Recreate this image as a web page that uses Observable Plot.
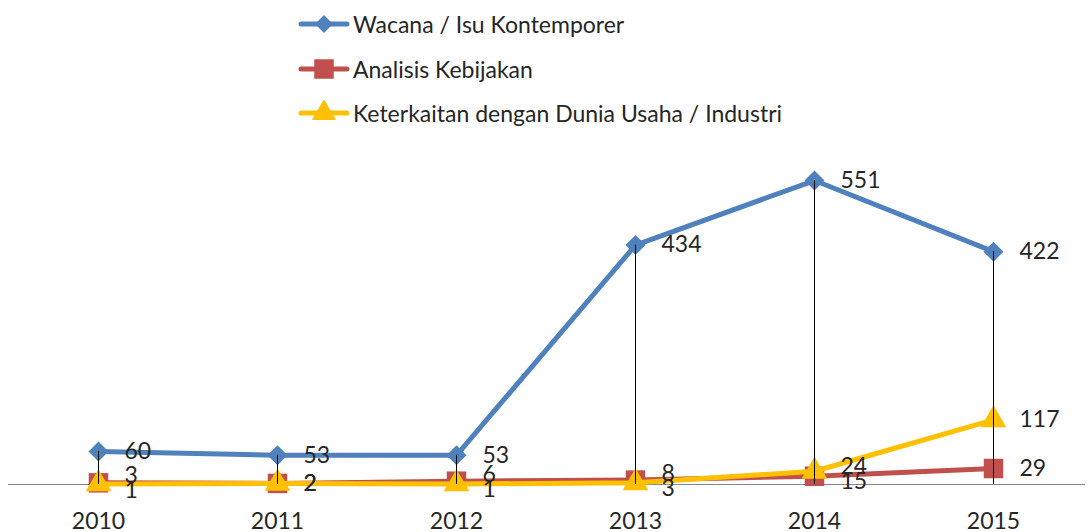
<!DOCTYPE html>
<html>
<head>
<meta charset="utf-8">
<script src="https://cdn.jsdelivr.net/npm/d3@7"></script>
<script src="https://cdn.jsdelivr.net/npm/@observablehq/plot@0.6"></script>
<style>
  html, body { margin: 0; padding: 0; background: #fff; }
  #wrap { position: relative; width: 1087px; height: 532px; font-family: Lato, "Open Sans", sans-serif; }
  #legend { position: absolute; left: 298px; top: 2px; color: #262626; font-size: 23px; }
  .row { display: flex; align-items: center; height: 44.5px; }
  .row span { margin-left: 3px; }
  #chart { position: absolute; left: 0; top: 0; }
</style>
</head>
<body>
<div id="wrap">
  <div id="chart"></div>
  <div id="legend"></div>
</div>
<script>
const years = ["2010", "2011", "2012", "2013", "2014", "2015"];
const wacana = [60, 53, 53, 434, 551, 422];
const analisis = [3, 2, 6, 8, 15, 29];
const keterkaitan = [1, 2, 1, 3, 24, 117];
const seriesNames = ["Wacana / Isu Kontemporer", "Analisis Kebijakan", "Keterkaitan dengan Dunia Usaha / Industri"];
const seriesColors = ["#4F81BD", "#C0504D", "#FFC000"];
const seriesSymbols = ["diamond2", "square", "triangle"];
const seriesValues = [wacana, analisis, keterkaitan];

const W = 1087, H = 532, mTop = 153, mBottom = 48, yMax = 600;
const ppu = (H - mTop - mBottom) / yMax;

// Nudge overlapping labels of the two small series apart
const labelY = seriesValues.map(v => v.slice());
years.forEach((_, i) => {
  const a = analisis[i], k = keterkaitan[i];
  const pa = a * ppu, pk = k * ppu;
  if (a !== k && Math.abs(pa - pk) < 15) {
    const mid = (pa + pk) / 2;
    const up = mid + 7.5, dn = mid - 7.5;
    if (a > k) { labelY[1][i] = up / ppu; labelY[2][i] = dn / ppu; }
    else { labelY[2][i] = up / ppu; labelY[1][i] = dn / ppu; }
  }
});

const rows = [];
seriesNames.forEach((s, j) => {
  years.forEach((y, i) => rows.push({series: s, idx: j, year: y, value: seriesValues[j][i], ly: labelY[j][i]}));
});
const drops = years.map((y, i) => ({year: y, top: Math.max(wacana[i], analisis[i], keterkaitan[i])}));

const marks = [Plot.ruleY([0], {stroke: "#868686", strokeWidth: 1})];
seriesNames.forEach((s, j) => {
  const d = rows.filter(r => r.idx === j);
  marks.push(Plot.line(d, {x: "year", y: "value", stroke: seriesColors[j], strokeWidth: 5, strokeLinejoin: "round", strokeLinecap: "round"}));
  const r = j === 0 ? 9 : j === 1 ? 11 : 9.5;
  marks.push(Plot.dot(d, {x: "year", y: "value", symbol: () => seriesSymbols[j], r, fill: seriesColors[j], stroke: "none"}));
});
marks.push(Plot.ruleX(drops, {x: "year", y1: 0, y2: "top", stroke: "#000", strokeWidth: 1}));
marks.push(Plot.text(rows, {x: "year", y: "ly", text: d => String(d.value), dx: 26, textAnchor: "start", fontSize: 23, fill: "#262626"}));
marks.push(Plot.axisX({tickSize: 0, tickPadding: 28, fontSize: 23, fill: "#262626"}));

const chart = Plot.plot({
  width: W, height: H,
  marginTop: mTop, marginBottom: mBottom, marginLeft: 8, marginRight: 2,
  x: {type: "point", domain: years, padding: 0, insetLeft: 89, insetRight: 91, label: null},
  y: {domain: [0, yMax], axis: null},
  symbol: {type: "identity"},
  style: {fontFamily: "Lato, 'Open Sans', sans-serif", fontSize: "23px", color: "#262626", background: "#fff"},
  marks
});
document.getElementById("chart").appendChild(chart);

// Legend
const legend = d3.select("#legend");
const symMap = {diamond2: d3.symbolDiamond2, square: d3.symbolSquare, triangle: d3.symbolTriangle};
const symSize = [206, 380, 250];
seriesNames.forEach((s, j) => {
  const row = legend.append("div").attr("class", "row");
  const svg = row.append("svg").attr("width", 52).attr("height", 26);
  svg.append("line").attr("x1", 3).attr("x2", 49).attr("y1", 13).attr("y2", 13)
    .attr("stroke", seriesColors[j]).attr("stroke-width", 5).attr("stroke-linecap", "round");
  svg.append("path").attr("transform", "translate(26,13)")
    .attr("d", d3.symbol(symMap[seriesSymbols[j]], symSize[j])())
    .attr("fill", seriesColors[j]);
  row.append("span").text(s);
});
</script>
</body>
</html>
